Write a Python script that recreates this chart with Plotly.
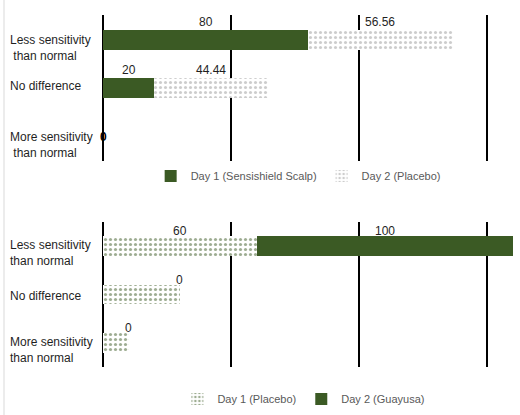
import plotly.graph_objects as go

# ---- data ----
categories = ["Less sensitivity<br> than normal", "No difference", "More sensitivity<br> than normal"]
categories_b = ["Less sensitivity<br>than normal", "No difference", "More sensitivity<br>than normal"]

top_day1_name = "Day 1 (Sensishield Scalp)"
top_day2_name = "Day 2 (Placebo)"
top_day1 = [80, 20, 0]
top_day2 = [56.56, 44.44, 0]

bot_day1_name = "Day 1 (Placebo)"
bot_day2_name = "Day 2 (Guayusa)"
bot_day1 = [60, 30, 10]
bot_day2 = [100, 0, 0]

x_ticks = [0, 50, 100, 150]

GREEN = "#3b5a24"
GRAY_DOT = "#9a9a9a"
TXT = "#1f1f1f"
LEG = "#595959"
FONT = "Liberation Sans"

fig = go.Figure()

# top chart
fig.add_trace(go.Bar(y=categories, x=top_day1, orientation="h", name=top_day1_name,
                     marker=dict(color=GREEN, line=dict(width=0)),
                     xaxis="x", yaxis="y", legend="legend", hoverinfo="skip"))
fig.add_trace(go.Bar(y=categories, x=top_day2, orientation="h", name=top_day2_name,
                     marker=dict(color="white", line=dict(width=0),
                                 pattern=dict(shape=".", fgcolor=GRAY_DOT, bgcolor="white",
                                              size=5, solidity=0.3)),
                     xaxis="x", yaxis="y", legend="legend", hoverinfo="skip"))
# bottom chart
fig.add_trace(go.Bar(y=categories_b, x=bot_day1, orientation="h", name=bot_day1_name,
                     marker=dict(color="white", line=dict(width=0),
                                 pattern=dict(shape=".", fgcolor=GREEN, bgcolor="white",
                                              size=5, solidity=0.32)),
                     xaxis="x2", yaxis="y2", legend="legend2", hoverinfo="skip"))
fig.add_trace(go.Bar(y=categories_b, x=bot_day2, orientation="h", name=bot_day2_name,
                     marker=dict(color=GREEN, line=dict(width=0)),
                     xaxis="x2", yaxis="y2", legend="legend2", hoverinfo="skip"))

annotations = []
# value labels (top)
for cat, a, b in zip(categories, top_day1, top_day2):
    if a == 0 and b == 0:
        annotations.append(dict(x=0, y=cat, xref="x", yref="y", text="<b>0</b>", showarrow=False,
                                font=dict(size=12, color="black", family=FONT)))
        continue
    annotations.append(dict(x=a / 2, y=cat, xref="x", yref="y", text=f"{a:g}", showarrow=False,
                            yshift=18, font=dict(size=12, color=TXT, family=FONT)))
    annotations.append(dict(x=a + b / 2, y=cat, xref="x", yref="y", text=f"{b:g}", showarrow=False,
                            yshift=18, font=dict(size=12, color=TXT, family=FONT)))
# value labels (bottom)
for i, (cat, a, b) in enumerate(zip(categories_b, bot_day1, bot_day2)):
    if i == 0:
        annotations.append(dict(x=a / 2, y=cat, xref="x2", yref="y2", text=f"{a:g}", showarrow=False,
                                yshift=15, font=dict(size=12, color=TXT, family=FONT)))
    annotations.append(dict(x=a + b / 2, y=cat, xref="x2", yref="y2", text=f"{b:g}", showarrow=False,
                            yshift=15, font=dict(size=12, color=TXT, family=FONT)))

# category labels (left aligned)
LABEL_X = (8 - 103) / 410
for cat in categories:
    annotations.append(dict(x=LABEL_X, y=cat, xref="paper", yref="y", text=cat, showarrow=False,
                            xanchor="left", align="left", yshift=-8 if "<br>" in cat else 2,
                            font=dict(size=12, color=TXT, family=FONT)))
for cat in categories_b:
    annotations.append(dict(x=LABEL_X, y=cat, xref="paper", yref="y2", text=cat, showarrow=False,
                            xanchor="left", align="left", yshift=-7 if "<br>" in cat else -1,
                            font=dict(size=12, color=TXT, family=FONT)))

xaxis_common = dict(range=[0, 160], tickvals=x_ticks, showticklabels=False, ticks="",
                    showgrid=True, gridcolor="black", gridwidth=2,
                    zeroline=True, zerolinecolor="black", zerolinewidth=2, showline=False,
                    fixedrange=True)
yaxis_common = dict(showticklabels=False, ticks="", showgrid=False, zeroline=False,
                    showline=False, autorange="reversed", fixedrange=True)

fig.update_layout(
    width=520, height=415,
    margin=dict(l=103, r=7, t=15, b=48, autoexpand=False),
    paper_bgcolor="white", plot_bgcolor="white",
    barmode="stack", bargap=0.59,
    font=dict(family=FONT, size=12, color=TXT),
    xaxis=dict(domain=[0, 1], anchor="y", **xaxis_common),
    yaxis=dict(domain=[0.5852, 1.0], anchor="x", **yaxis_common),
    xaxis2=dict(domain=[0, 1], anchor="y2", **xaxis_common),
    yaxis2=dict(domain=[0.0, 0.4119], anchor="x2", **yaxis_common),
    legend=dict(orientation="h", x=0.476, xanchor="center", y=0.5426, yanchor="middle",
                font=dict(size=11, color=LEG, family=FONT), itemwidth=30,
                traceorder="normal", bgcolor="rgba(0,0,0,0)"),
    legend2=dict(orientation="h", x=0.49, xanchor="center", y=-0.0909, yanchor="middle",
                 font=dict(size=11, color=LEG, family=FONT), itemwidth=30,
                 traceorder="normal", bgcolor="rgba(0,0,0,0)"),
    annotations=annotations,
    shapes=[dict(type="line", xref="paper", yref="paper", x0=(4 - 103) / 410, x1=(4 - 103) / 410,
                 y0=-48 / 352, y1=1 + 15 / 352, line=dict(color="#d9d9d9", width=1))],
    showlegend=True,
)

fig.write_html("out.html")
